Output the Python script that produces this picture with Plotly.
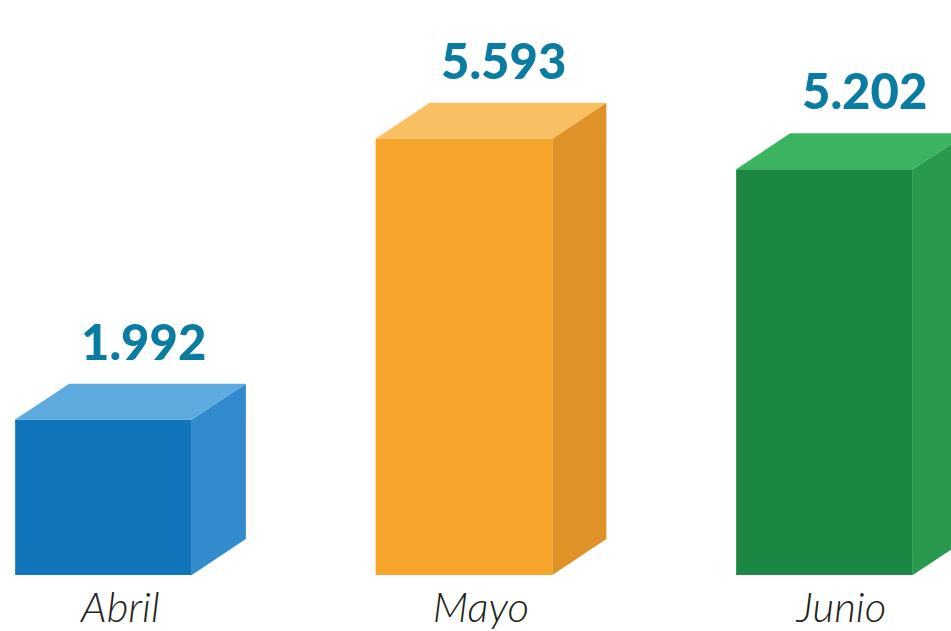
import plotly.graph_objects as go

# Data
months = ["Abril", "Mayo", "Junio"]
values = [1992, 5593, 5202]
value_labels = ["1.992", "5.593", "5.202"]

front_colors = ["#1175BC", "#F7A42A", "#1B8743"]
side_colors = ["#318BCC", "#DE9227", "#28994D"]
top_colors = ["#5DABDE", "#F9BF62", "#3BB462"]

# Geometry (styling)
bar_w = 0.49
dx = 0.15     # depth in x units
dy = 460      # depth in y units
label_color = "#0A7BA1"

fig = go.Figure()
xs = list(range(len(months)))

fig.add_trace(go.Bar(x=xs, y=values, width=bar_w,
                     marker=dict(color=front_colors, line=dict(width=0)),
                     hoverinfo="skip"))

for i, v in enumerate(values):
    x0 = i - bar_w / 2
    x1 = i + bar_w / 2
    # side face
    fig.add_trace(go.Scatter(
        x=[x1, x1 + dx, x1 + dx, x1, x1],
        y=[0, dy, v + dy, v, 0],
        fill="toself", fillcolor=side_colors[i], mode="none",
        line=dict(width=0), hoverinfo="skip"))
    # top face
    fig.add_trace(go.Scatter(
        x=[x0, x0 + dx, x1 + dx, x1, x0],
        y=[v, v + dy, v + dy, v, v],
        fill="toself", fillcolor=top_colors[i], mode="none",
        line=dict(width=0), hoverinfo="skip"))
    fig.add_annotation(x=i + 0.11, y=v + dy, text=value_labels[i],
                       showarrow=False, yanchor="bottom", yshift=12,
                       font=dict(family="Lato", size=49, color=label_color, weight=900))

k = 0.078  # px per unit
fig.update_layout(
    width=951, height=631,
    margin=dict(l=0, r=0, t=0, b=56),
    paper_bgcolor="white", plot_bgcolor="white",
    showlegend=False,
    xaxis=dict(range=[-0.287, 2.351], showgrid=False, zeroline=False,
               showline=False, ticks="",
               tickvals=[i + 0.047 for i in xs], ticktext=months,
               tickfont=dict(family="Lato", size=42, color="#231F20",
                             style="italic", weight=300),
               ticklabelstandoff=4),
    yaxis=dict(range=[0, 575 / k], showgrid=False, zeroline=False,
               showline=False, showticklabels=False, ticks=""),
)

fig.write_html("out.html")
